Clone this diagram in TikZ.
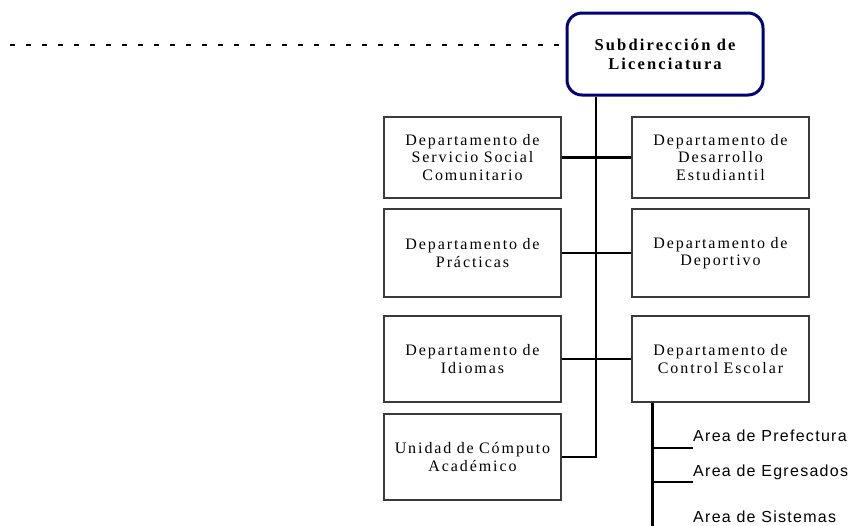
\documentclass[tikz,border=0pt]{standalone}
\usepackage{fontspec}
\setmainfont{Liberation Serif}
\newfontfamily\boxfont[LetterSpace=12]{Liberation Serif}
\newfontfamily\topfont[LetterSpace=13]{Liberation Serif}
\newfontfamily\areafont[LetterSpace=8]{Liberation Sans}
\definecolor{navyb}{HTML}{00007A}
\definecolor{boxline}{HTML}{3A3A3A}
\begin{document}
\begin{tikzpicture}[x=1pt,y=-1pt,
  deptbox/.style={draw=boxline,line width=1.4pt,minimum width=177pt,text width=175pt,align=center,inner sep=0pt,
    font=\boxfont\fontsize{16}{17.5}\selectfont},
  topbox/.style={draw=navyb,line width=3pt,rounded corners=15pt,minimum width=196pt,minimum height=82pt,align=center,
    font=\topfont\bfseries\fontsize{16.5}{19}\selectfont},
  arealabel/.style={inner sep=0pt,anchor=base west,font=\areafont\fontsize{16}{18}\selectfont},
  conn/.style={draw=black,line width=2.6pt},
  dashline/.style={draw=black,line width=2.6pt,dash pattern=on 5pt off 11pt}]
\useasboundingbox[fill=white] (0,0) rectangle (859,525);

\node[topbox] (top) at (665,54) {Subdirección de\\Licenciatura};

\node[deptbox,minimum height=81pt] (l1) at (472.5,157.5) {Departamento de\\Servicio Social\\Comunitario};
\node[deptbox,minimum height=88pt] (l2) at (472.5,253) {Departamento de\\Prácticas};
\node[deptbox,minimum height=86pt] (l3) at (472.5,359) {Departamento de\\Idiomas};
\node[deptbox,minimum height=86pt] (l4) at (472.5,457) {Unidad de Cómputo\\Académico};

\node[deptbox,minimum height=81pt] (r1) at (720.5,157.5) {Departamento de\\Desarrollo\\Estudiantil};
\node[deptbox,minimum height=88pt] (r2) at (720.5,253) {Departamento de\\Deportivo};
\node[deptbox,minimum height=86pt] (r3) at (720.5,359) {Departamento de\\Control Escolar};

\coordinate (dl) at (10,45);
\draw[dashline] (dl) -- (dl -| top.west);

\coordinate (tk) at (596,457);
\draw[conn] (top.south -| tk) -- (tk) -- (l4.east);
\draw[conn] (l1.east) -- (r1.west);
\draw[conn] (l2.east) -- (r2.west);
\draw[conn] (l3.east) -- (r3.west);

\node[arealabel] (a1) at (693,441) {Area de Prefectura};
\node[arealabel] (a2) at (693,476) {Area de Egresados};
\node[arealabel] (a3) at (693,522) {Area de Sistemas};

\coordinate (st) at (652,526);
\coordinate (b1) at (693,448);
\coordinate (b2) at (693,482);
\draw[conn,line width=3pt] (r3.south -| st) -- (st);
\draw[conn,line width=2.2pt] (st |- b1) -- (b1);
\draw[conn,line width=2.2pt] (st |- b2) -- (b2);
\end{tikzpicture}
\end{document}
